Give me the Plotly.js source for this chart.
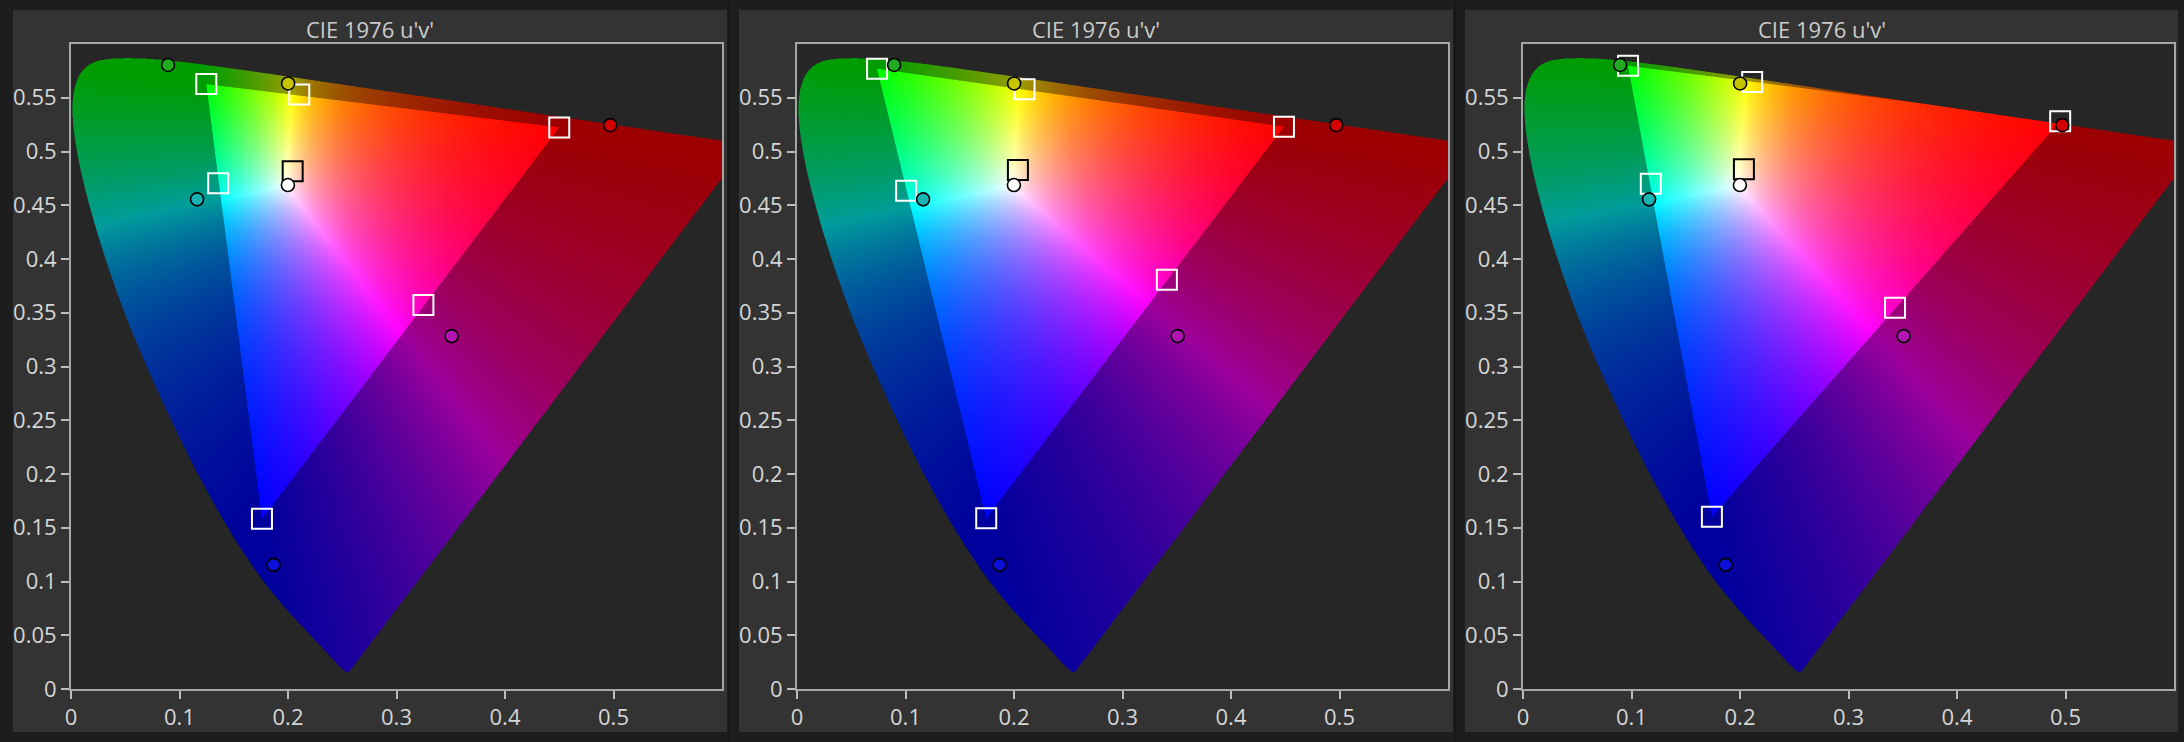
<!DOCTYPE html>
<html><head><meta charset="utf-8">
<script src="https://cdn.plot.ly/plotly-3.0.1.min.js"></script>
<style>html,body{margin:0;padding:0;background:#1d1d1d;overflow:hidden}</style>
</head><body><div id="chart" style="width:2184px;height:742px"></div>
<script>
// ---------------- data ----------------
const panelTitle = "CIE 1976 u'v'";
const patches = ['Red','Green','Blue','Cyan','Magenta','Yellow','White'];
// target points (circles), same in each panel
const targetU = [0.4970, 0.0895, 0.1867, 0.1162, 0.3508, 0.2001, 0.1999];
const targetV = [0.5245, 0.5805, 0.1155, 0.4555, 0.3283, 0.5633, 0.4688];
// measured points (squares), one pair of arrays per panel
const measU1 = [0.4500, 0.1247, 0.1760, 0.1357, 0.3248, 0.2104, 0.2043];
const measV1 = [0.5224, 0.5627, 0.1583, 0.4705, 0.3572, 0.5530, 0.4817];
const measU2 = [0.4488, 0.0738, 0.1744, 0.1006, 0.3409, 0.2097, 0.2036];
const measV2 = [0.5231, 0.5770, 0.1589, 0.4636, 0.3808, 0.5579, 0.4828];
const measU3 = [0.4951, 0.0968, 0.1741, 0.1178, 0.3429, 0.2112, 0.2036];
const measV3 = [0.5281, 0.5798, 0.1602, 0.4701, 0.3547, 0.5647, 0.4834];
// reference white (D65) in u'v'
const whiteU = 0.1978, whiteV = 0.4683;
// CIE 1931 2deg spectral locus chromaticities, 380..700 nm step 5
const locusX = [0.1741,0.1740,0.1738,0.1736,0.1733,0.1730,0.1726,0.1721,0.1714,0.1703,0.1689,0.1669,0.1644,0.1611,0.1566,0.1510,0.1440,0.1355,0.1241,0.1096,0.0913,0.0687,0.0454,0.0235,0.0082,0.0039,0.0139,0.0389,0.0743,0.1142,0.1547,0.1929,0.2296,0.2658,0.3016,0.3373,0.3731,0.4087,0.4441,0.4788,0.5125,0.5448,0.5752,0.6029,0.6270,0.6482,0.6658,0.6801,0.6915,0.7006,0.7079,0.7140,0.7190,0.7230,0.7260,0.7283,0.7300,0.7311,0.7320,0.7327,0.7334,0.7340,0.7344,0.7346,0.7347];
const locusY = [0.0050,0.0050,0.0049,0.0049,0.0048,0.0048,0.0048,0.0048,0.0051,0.0058,0.0069,0.0086,0.0109,0.0138,0.0177,0.0227,0.0297,0.0399,0.0578,0.0868,0.1327,0.2007,0.2950,0.4127,0.5384,0.6548,0.7502,0.8120,0.8338,0.8262,0.8059,0.7816,0.7543,0.7243,0.6923,0.6589,0.6245,0.5896,0.5547,0.5202,0.4866,0.4544,0.4242,0.3965,0.3725,0.3514,0.3340,0.3197,0.3083,0.2993,0.2920,0.2859,0.2809,0.2770,0.2740,0.2717,0.2700,0.2689,0.2680,0.2673,0.2666,0.2660,0.2656,0.2654,0.2653];
// axis ticks
const xTickVals = [0, 0.1, 0.2, 0.3, 0.4, 0.5];
const xTickText = ['0','0.1','0.2','0.3','0.4','0.5'];
const yTickVals = [0,0.05,0.1,0.15,0.2,0.25,0.3,0.35,0.4,0.45,0.5,0.55];
const yTickText = ['0','0.05','0.1','0.15','0.2','0.25','0.3','0.35','0.4','0.45','0.5','0.55'];
const axisRange = [0, 0.6];

// ---------------- styles ----------------
const targetColors = ['#d40000','#22aa22','#0a10d8','#18b4b4','#b414b4','#c8c400','#ffffff'];
const measColors = ['#ffffff','#ffffff','#ffffff','#ffffff','#ffffff','#ffffff','#000000'];
const W = 2184, H = 742;
const plotLeft = [71, 797, 1523], plotW = 651, plotTop = 44, plotBottom = 689;
const panelL = [13, 739, 1465], panelR = [727, 1453, 2178], panelT = 10, panelB = 732;
const sepX = [729, 1455];
const FONT = '"Open Sans", "Noto Sans", sans-serif';

// ---------------- colour diagram rendering ----------------
function uvFromXY(x, y) { const d = -2*x + 12*y + 3; return [4*x/d, 9*y/d]; }
function xyzFromUV(u, v) { const d = 6*u - 16*v + 12; const x = 9*u/d, y = 4*v/d; return [x/y, 1, (1-x-y)/y]; }
function inv3(m) {
  const [a,b,c] = m[0], [d,e,f] = m[1], [g,h,i] = m[2];
  const A = e*i-f*h, B = -(d*i-f*g), C = d*h-e*g;
  const det = a*A + b*B + c*C;
  return [[A/det, -(b*i-c*h)/det, (b*f-c*e)/det],
          [B/det, (a*i-c*g)/det, -(a*f-c*d)/det],
          [C/det, -(a*h-b*g)/det, (a*e-b*d)/det]];
}
function xyzToRgbMatrix(pr, pg, pb) {
  const r = xyzFromUV(pr[0], pr[1]), g = xyzFromUV(pg[0], pg[1]), b = xyzFromUV(pb[0], pb[1]);
  const P = [[r[0],g[0],b[0]],[r[1],g[1],b[1]],[r[2],g[2],b[2]]];
  const Pi = inv3(P), w = xyzFromUV(whiteU, whiteV);
  const S = [0,1,2].map(k => Pi[k][0]*w[0] + Pi[k][1]*w[1] + Pi[k][2]*w[2]);
  const M = P.map(row => [row[0]*S[0], row[1]*S[1], row[2]*S[2]]);
  return inv3(M);
}
function smoothLocus() {
  const n = Math.min(locusX.length, locusY.length);
  const p = [];
  for (let k = 0; k < n; k++) p.push(uvFromXY(locusX[k], locusY[k]));
  const out = [];
  const SUB = 8;
  for (let k = 0; k < n-1; k++) {
    const p0 = p[Math.max(0,k-1)], p1 = p[k], p2 = p[k+1], p3 = p[Math.min(n-1,k+2)];
    for (let s = 0; s < SUB; s++) {
      const t = s/SUB, t2 = t*t, t3 = t2*t;
      const f = (a0,a1,a2,a3) => 0.5*((2*a1) + (-a0+a2)*t + (2*a0-5*a1+4*a2-a3)*t2 + (-a0+3*a1-3*a2+a3)*t3);
      out.push([f(p0[0],p1[0],p2[0],p3[0]), f(p0[1],p1[1],p2[1],p3[1])]);
    }
  }
  out.push(p[n-1]);
  return out;
}
const poly = smoothLocus();
const DIM = 0.61;
const IMG_W = plotW, IMG_H = plotBottom - plotTop;
function renderPanel(mu, mv) {
  const Mi = xyzToRgbMatrix([mu[0],mv[0]], [mu[1],mv[1]], [mu[2],mv[2]]);
  const SS = 2, SW = IMG_W*SS, SH = IMG_H*SS;
  const xMax = axisRange[1], yMax = axisRange[1];
  const acc = new Float32Array(IMG_W*IMG_H*4);
  const n = poly.length;
  for (let j = 0; j < SH; j++) {
    const v = (j+0.5)/SH*yMax;
    const xs = [];
    for (let k = 0; k < n; k++) {
      const a = poly[k], b = poly[(k+1)%n];
      if ((a[1] <= v) !== (b[1] <= v)) xs.push(a[0] + (v-a[1])/(b[1]-a[1])*(b[0]-a[0]));
    }
    xs.sort((p,q) => p-q);
    const row = (j >> 1);
    for (let s = 0; s+1 < xs.length; s += 2) {
      const i0 = Math.max(0, Math.ceil(xs[s]/xMax*SW - 0.5));
      const i1 = Math.min(SW-1, Math.floor(xs[s+1]/xMax*SW - 0.5));
      for (let i = i0; i <= i1; i++) {
        const u = (i+0.5)/SW*xMax;
        const d = 6*u - 16*v + 12;
        const x = 9*u/d, y = 4*v/d;
        const X = x/y, Z = (1-x-y)/y;
        let r = Mi[0][0]*X + Mi[0][1] + Mi[0][2]*Z;
        let g = Mi[1][0]*X + Mi[1][1] + Mi[1][2]*Z;
        let bb = Mi[2][0]*X + Mi[2][1] + Mi[2][2]*Z;
        const inside = r >= 0 && g >= 0 && bb >= 0;
        if (r < 0) r = 0; if (g < 0) g = 0; if (bb < 0) bb = 0;
        const mx = Math.max(r, g, bb) || 1;
        r /= mx; g /= mx; bb /= mx;
        if (!inside) { r *= DIM; g *= DIM; bb *= DIM; }
        const idx = (row*IMG_W + (i >> 1))*4;
        acc[idx] += r; acc[idx+1] += g; acc[idx+2] += bb; acc[idx+3] += 1;
      }
    }
  }
  const cv = document.createElement('canvas');
  cv.width = IMG_W; cv.height = IMG_H;
  const ctx = cv.getContext('2d');
  const im = ctx.createImageData(IMG_W, IMG_H);
  for (let p = 0; p < IMG_W*IMG_H; p++) {
    const c = acc[p*4+3];
    if (c > 0) {
      im.data[p*4] = Math.round(acc[p*4]/c*255);
      im.data[p*4+1] = Math.round(acc[p*4+1]/c*255);
      im.data[p*4+2] = Math.round(acc[p*4+2]/c*255);
      im.data[p*4+3] = Math.round(c/(SS*SS)*255);
    }
  }
  ctx.putImageData(im, 0, 0);
  return cv.toDataURL('image/png');
}

// ---------------- figure ----------------
const measU = [measU1, measU2, measU3], measV = [measV1, measV2, measV3];
const data = [], shapes = [], annotations = [];
const layout = {
  width: W, height: H, margin: {l:0, r:0, t:0, b:0},
  paper_bgcolor: '#1d1d1d', plot_bgcolor: 'rgba(0,0,0,0)',
  showlegend: false, font: {family: FONT, size: 22, color: '#d2d2d2'}
};
const yDom = [(H - plotBottom)/H, (H - plotTop)/H];
for (let k = 0; k < 3; k++) {
  const sx = k === 0 ? '' : String(k+1);
  const xa = 'x' + sx, ya = 'y' + sx;
  const dx = (axisRange[1]-axisRange[0])/IMG_W, dy = (axisRange[1]-axisRange[0])/IMG_H;
  data.push({type:'image', source: renderPanel(measU[k], measV[k]), x0: axisRange[0]+dx/2, dx: dx,
             y0: axisRange[0]+dy/2, dy: dy, xaxis: xa, yaxis: ya, hoverinfo: 'skip'});
  data.push({type:'scatter', mode:'markers', x: measU[k], y: measV[k], text: patches, xaxis: xa, yaxis: ya,
             marker: {symbol:'square-open', size: 20, color: measColors, line: {width: 2}}, hoverinfo:'text+x+y'});
  data.push({type:'scatter', mode:'markers', x: targetU, y: targetV, text: patches, xaxis: xa, yaxis: ya,
             marker: {symbol:'circle', size: 13, color: targetColors, line: {width: 1.6, color: '#000000'}}, hoverinfo:'text+x+y'});
  const axCommon = {
    range: axisRange, autorange: false, showgrid: false, zeroline: false,
    showline: true, mirror: true, linecolor: '#a6a6a6', linewidth: 2,
    ticks: 'outside', ticklen: 8, tickwidth: 2, tickcolor: '#bdbdbd',
    tickfont: {family: FONT, size: 22, color: '#d6d6d6'}, fixedrange: true
  };
  layout['xaxis' + sx] = Object.assign({}, axCommon, {
    domain: [plotLeft[k]/W, (plotLeft[k]+plotW)/W], anchor: ya,
    tickvals: xTickVals, ticktext: xTickText, scaleanchor: false
  });
  layout['yaxis' + sx] = Object.assign({}, axCommon, {
    domain: yDom, anchor: xa, tickvals: yTickVals, ticktext: yTickText, scaleanchor: false
  });
  shapes.push({type:'rect', xref:'paper', yref:'paper', layer:'below',
    x0: panelL[k]/W, x1: panelR[k]/W, y0: (H-panelB)/H, y1: (H-panelT)/H,
    fillcolor:'#333333', line:{width:0}});
  shapes.push({type:'rect', xref:'paper', yref:'paper', layer:'below',
    x0: plotLeft[k]/W, x1: (plotLeft[k]+plotW)/W, y0: yDom[0], y1: yDom[1],
    fillcolor:'#262626', line:{width:0}});
  annotations.push({xref:'paper', yref:'paper', x: (panelL[k]+panelR[k])/2/W, y: 1 - 29/H,
    xanchor:'center', yanchor:'middle', showarrow:false, text: panelTitle,
    font: {family: FONT, size: 22, color: '#cccccc'}});
}
for (const sxp of sepX) {
  shapes.push({type:'line', xref:'paper', yref:'paper', layer:'below',
    x0: sxp/W, x1: sxp/W, y0: 0, y1: 1, line: {color:'#121212', width: 1}});
}
layout.shapes = shapes;
layout.annotations = annotations;
Plotly.newPlot('chart', data, layout, {staticPlot: true, displayModeBar: false});
</script>
</body></html>
